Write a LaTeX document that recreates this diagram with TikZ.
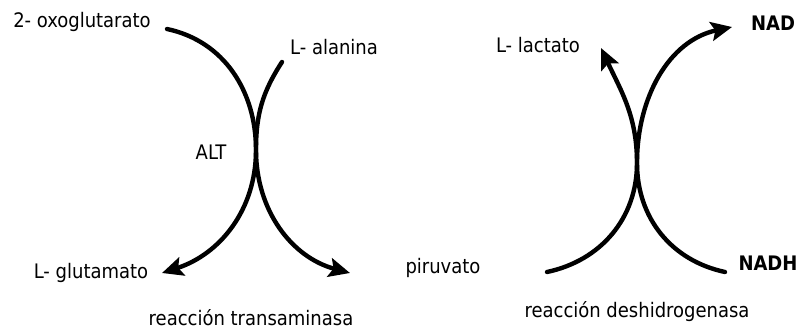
\documentclass[tikz,border=0pt]{standalone}
\usepackage{fontspec}
\setmainfont{DejaVu Sans Condensed}
\usepackage{tikz}
\usetikzlibrary{arrows.meta}

\begin{document}
\begin{tikzpicture}[
        x=1pt,y=1pt,
        every node/.style={font=\fontsize{20}{23}\selectfont,inner sep=1pt},
        bold/.style={font=\fontsize{20}{23}\selectfont\bfseries},
        curve/.style={line width=4.4pt,line cap=round},
        arrow/.style={curve,-{Stealth[length=21pt,width=19pt,inset=4pt]}}
    ]
        \useasboundingbox (0,0) rectangle (801,333);

        % transaminasa
        \node (oxo) at (82,311) {2- oxoglutarato};
        \node (ala) at (334,286) {L- alanina};
        \node (alt) at (211,181) {ALT};
        \node (glu) at (91,60) {L- glutamato};
        \node (trans) at (251,15) {reacción transaminasa};

        \coordinate (oxoS) at (167,304);
        \coordinate (alaS) at (282,271);
        \coordinate (crossL) at (256,183);
        \coordinate (gluT) at (162,60);
        \coordinate (alaT) at (350,60);

        \draw[arrow] (oxoS) to[out=-12,in=90] (crossL) to[out=-90,in=18] (gluT);
        \draw[arrow] (alaS) to[out=-123,in=90] (crossL) to[out=-90,in=165] (alaT);

        % deshidrogenasa
        \node (pir) at (443,65) {piruvato};
        \node[bold] (nadh) at (768,70) {NADH};
        \node (lac) at (538,288) {L- lactato};
        \node[bold] (nad) at (773,310) {NAD};
        \node (deshid) at (637,21) {reacción deshidrogenasa};

        \coordinate (pirS) at (547,61);
        \coordinate (nadhS) at (725,61);
        \coordinate (crossR) at (637,170);
        \coordinate (lacT) at (601,285);
        \coordinate (nadT) at (732,306);

        \draw[arrow] (pirS) to[out=12,in=-90] (crossR) to[out=90,in=-65] (lacT);
        \draw[arrow] (nadhS) to[out=168,in=-90] (crossR) to[out=90,in=192] (nadT);
    \end{tikzpicture}
\end{document}
